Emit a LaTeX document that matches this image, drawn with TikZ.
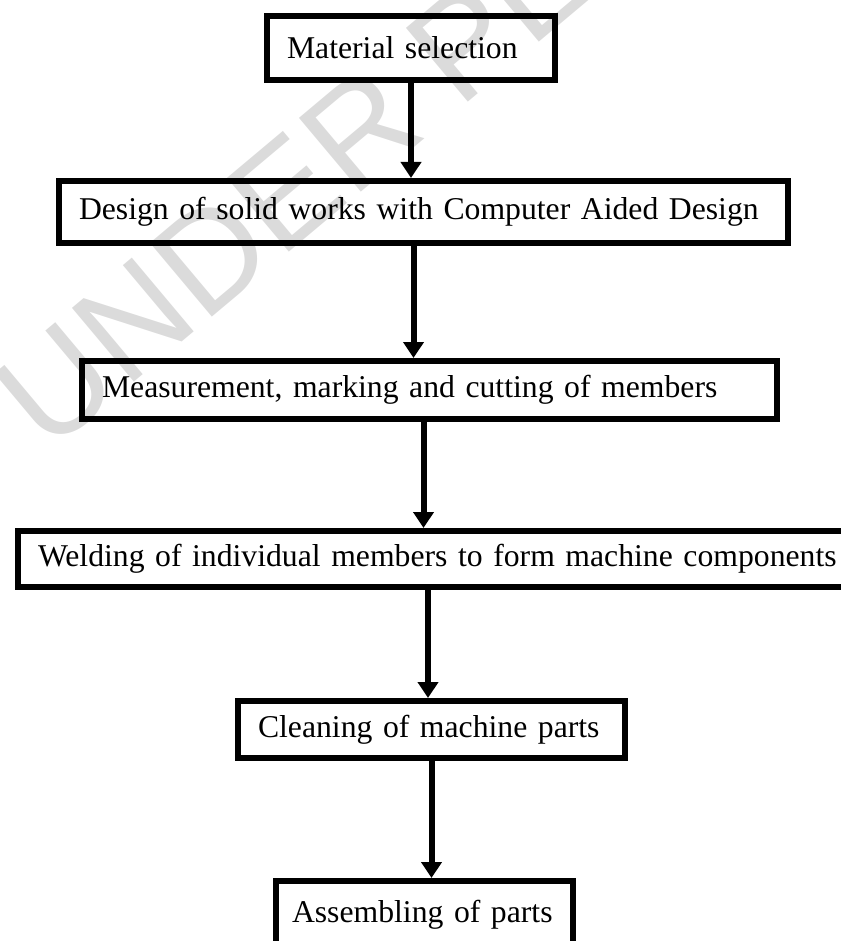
\documentclass[tikz,border=0pt]{standalone}
\usepackage{fontspec}
\setmainfont{Liberation Serif}
\newfontfamily\wmfont{Liberation Sans}
\usetikzlibrary{arrows.meta}
\tikzset{
  stepbox/.style={draw, line width=3pt, rectangle, align=left, anchor=north west,
    inner xsep=10pt, inner ysep=0pt, font=\fontsize{15.85}{19}\selectfont},
  flow/.style={line width=3pt, -{Triangle[width=10pt,length=8pt]}},
  watermark/.style={text=black!14, font=\wmfont\fontsize{70}{70}\selectfont,
    rotate=40, anchor=base west, inner sep=0pt}
}
\begin{document}
\begin{tikzpicture}[x=0.5pt,y=-0.5pt]
	\useasboundingbox (0,0) rectangle (840,941);
	\node[watermark] (wm) at (48,455) {UNDER PEER REVIEW};
	% process steps
	\node[stepbox, text width=124pt, minimum height=32pt] (sel) at (264,13) {Material selection};
	\node[stepbox, text width=344.5pt, minimum height=31pt] (cad) at (56,178) {Design of solid works with Computer Aided Design};
	\node[stepbox, text width=327.5pt, minimum height=29pt] (meas) at (79,358) {Measurement, marking and cutting of members};
	\node[stepbox, text width=405pt, minimum height=28pt] (weld) at (15,528) {Welding of individual members to form machine components};
	\node[stepbox, text width=173.5pt, minimum height=28.5pt] (clean) at (235,698) {Cleaning of machine parts};
	\node[stepbox, inner xsep=8pt, text width=132.5pt, minimum height=34pt] (asm) at (273,878) {Assembling of parts};
	% arrows
	\draw[flow] (sel.south) -- (sel.south |- cad.north);
	\draw[flow] ([xshift=-5pt]cad.south) -- ([xshift=-5pt]cad.south |- meas.north);
	\draw[flow] ([xshift=-3pt]meas.south) -- ([xshift=-3pt]meas.south |- weld.north);
	\draw[flow] ([xshift=-7.5pt]weld.south) -- ([xshift=-7.5pt]weld.south |- clean.north);
	\draw[flow] (clean.south) -- (clean.south |- asm.north);
\end{tikzpicture}
\end{document}
